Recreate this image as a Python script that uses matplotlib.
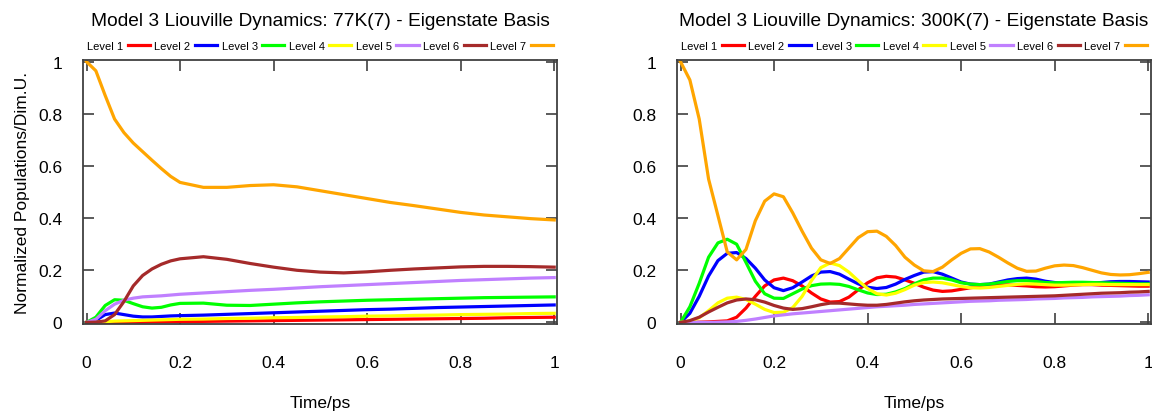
import numpy as np
import matplotlib
matplotlib.use("Agg")
import matplotlib.pyplot as plt

plt.rcParams['font.family'] = ['Liberation Sans', 'DejaVu Sans']

labels = ["Level 1", "Level 2", "Level 3", "Level 4", "Level 5", "Level 6", "Level 7"]
colors = ["#ff0000", "#0000ff", "#00ff00", "#ffff00", "#c080ff", "#a52a2a", "#ffa500"]

# 77K panel
t_77 = [0, .02, .04, .06, .08, .10, .12, .14, .16, .18, .20, .25, .30, .35, .40,
        .45, .50, .55, .60, .65, .70, .75, .80, .85, .90, .95, 1.0]
lvl1_77 = [0, 0, 0, 0, 0, .001, .001, .002, .002, .003, .003, .004, .005, .006, .007,
           .008, .009, .010, .011, .012, .013, .014, .015, .016, .018, .019, .020]
lvl2_77 = [0, .008, .030, .036, .030, .024, .021, .021, .023, .025, .026, .028, .031, .034, .037,
           .040, .043, .046, .049, .051, .054, .057, .059, .061, .063, .065, .067]
lvl3_77 = [0, .020, .065, .087, .085, .072, .060, .055, .058, .067, .073, .074, .066, .065, .070,
           .075, .079, .082, .085, .087, .089, .091, .093, .095, .096, .097, .098]
lvl4_77 = [0, .001, .003, .005, .006, .007, .008, .009, .010, .011, .012, .013, .015, .016, .018,
           .019, .021, .022, .024, .025, .027, .028, .030, .031, .032, .034, .035]
lvl5_77 = [0, .012, .045, .070, .085, .093, .098, .100, .102, .105, .108, .113, .118, .123, .127,
           .132, .137, .141, .145, .149, .153, .157, .161, .164, .167, .170, .172]
lvl6_77 = [0, .001, .006, .030, .080, .140, .180, .205, .223, .236, .244, .252, .242, .226, .212,
           .200, .193, .190, .194, .200, .205, .209, .213, .215, .215, .214, .212]
lvl7_77 = [1.0, .965, .870, .780, .728, .688, .655, .622, .590, .560, .537, .518, .518, .525, .528,
           .520, .505, .490, .475, .460, .448, .435, .422, .412, .405, .398, .393]

# 300K panel
t_300 = [round(0.02 * i, 2) for i in range(51)]
lvl1_300 = [0, 0, .001, .002, .004, .006, .020, .055, .100, .140, .163, .170, .160, .140, .113, .090, .078,
            .080, .097, .125, .152, .171, .177, .174, .163, .150, .135, .124, .119, .121, .127, .133, .138,
            .142, .144, .144, .142, .140, .137, .136, .137, .140, .143, .145, .145, .143, .142, .141, .140,
            .139, .139]
lvl2_300 = [0, .035, .100, .178, .237, .265, .268, .245, .208, .163, .133, .122, .133, .155, .178, .193, .195,
            .185, .166, .148, .135, .130, .134, .147, .165, .180, .193, .195, .185, .170, .155, .147, .145,
            .147, .155, .163, .168, .170, .166, .158, .153, .150, .148, .148, .150, .153, .156, .157, .157,
            .156, .155]
lvl3_300 = [0, .060, .150, .250, .305, .319, .300, .230, .158, .110, .093, .092, .110, .128, .141, .147, .148,
            .146, .138, .125, .113, .107, .108, .117, .130, .148, .163, .170, .170, .163, .152, .147, .145,
            .147, .152, .157, .160, .160, .157, .153, .152, .153, .154, .154, .153, .152, .151, .150, .149,
            .148, .148]
lvl4_300 = [0, .005, .018, .045, .075, .093, .097, .088, .070, .050, .038, .039, .057, .100, .160, .210, .228,
            .218, .193, .160, .130, .110, .105, .112, .126, .143, .153, .155, .152, .145, .138, .133, .132,
            .134, .138, .142, .146, .148, .147, .145, .143, .143, .144, .145, .146, .146, .145, .145, .145,
            .145, .145]
lvl5_300 = [0, 0, 0, 0, .001, .002, .004, .008, .013, .019, .025, .029, .033, .036, .039, .042, .045,
            .048, .051, .054, .057, .060, .062, .064, .066, .069, .071, .073, .075, .077, .079, .081, .082,
            .083, .085, .086, .087, .088, .090, .091, .092, .094, .095, .096, .098, .099, .100, .101, .103,
            .104, .106]
lvl6_300 = [0, .007, .020, .040, .058, .075, .086, .090, .087, .078, .065, .055, .050, .053, .060, .068, .074,
            .074, .071, .068, .066, .066, .069, .074, .079, .083, .086, .088, .090, .091, .092, .093, .094,
            .095, .096, .097, .098, .099, .100, .101, .102, .104, .106, .108, .110, .112, .113, .114, .116,
            .117, .119]
lvl7_300 = [1.0, .930, .780, .550, .410, .270, .240, .280, .390, .465, .493, .482, .420, .350, .285, .240, .226,
            .245, .285, .325, .348, .350, .330, .295, .250, .220, .198, .195, .212, .240, .265, .282, .283,
            .270, .250, .228, .208, .196, .197, .208, .217, .220, .218, .210, .200, .190, .184, .182, .183,
            .187, .192]

panels = [
    ("Model 3 Liouville Dynamics: 77K(7) - Eigenstate Basis", t_77,
     [lvl1_77, lvl2_77, lvl3_77, lvl4_77, lvl5_77, lvl6_77, lvl7_77]),
    ("Model 3 Liouville Dynamics: 300K(7) - Eigenstate Basis", t_300,
     [lvl1_300, lvl2_300, lvl3_300, lvl4_300, lvl5_300, lvl6_300, lvl7_300]),
]

fig = plt.figure(figsize=(11.52, 4.14), dpi=100)
lefts = [83 / 1152, 677 / 1152]

for i, (title, t, series) in enumerate(panels):
    ax = fig.add_axes([lefts[i], 0.215, 474 / 1152, 0.638])
    for y, lab, c in zip(series, labels, colors):
        ax.plot(t, y, color=c, lw=2.3, label=lab, solid_joinstyle='round')
    ax.set_xlim(-0.0075, 1.006)
    ax.set_ylim(-0.006, 1.007)
    ticks = [0, 0.2, 0.4, 0.6, 0.8, 1]
    ticklabels = ["0", "0.2", "0.4", "0.6", "0.8", "1"]
    ax.set_xticks(ticks)
    ax.set_yticks(ticks)
    ax.set_xticklabels(ticklabels)
    ax.set_yticklabels(ticklabels)
    ax.tick_params(direction='in', length=8, width=1.2, color='#404040',
                   top=True, right=True, labelsize=12.5)
    ax.tick_params(axis='x', pad=22)
    ax.tick_params(axis='y', pad=15)
    for s in ax.spines.values():
        s.set_color('#404040')
        s.set_linewidth(1.3)
    ax.set_xlabel("Time/ps", fontsize=12.5, labelpad=18)
    if i == 0:
        ax.set_ylabel("Normalized Populations/Dim.U.", fontsize=12.5, labelpad=6)
    ax.set_title(title, fontsize=13.8, pad=25)
    ax.legend(ncol=7, loc='lower center', bbox_to_anchor=(0.5, 1.0), frameon=False,
              markerfirst=False, fontsize=8, handlelength=2.0, handletextpad=0.4,
              columnspacing=0.4, borderaxespad=0.4)

fig.savefig("out.png", dpi=100)
